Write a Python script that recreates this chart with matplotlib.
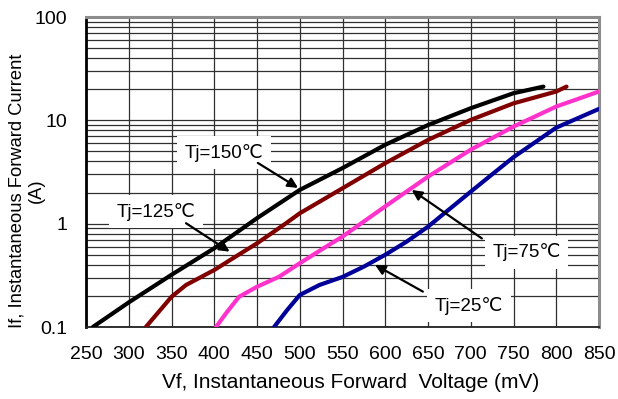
import matplotlib
matplotlib.use("Agg")
import matplotlib.pyplot as plt
from matplotlib.ticker import FixedLocator, LogLocator, NullFormatter

plt.rcParams['font.family'] = ['Liberation Sans', 'DejaVu Sans']

# Data (mV, A)
v150 = [258, 300, 350, 400, 450, 500, 550, 600, 650, 700, 750, 785]
i150 = [0.1, 0.173, 0.32, 0.578, 1.13, 2.12, 3.45, 5.8, 9.0, 13.1, 18.3, 21.2]

v125 = [320, 335, 350, 367, 400, 425, 450, 484, 500, 550, 600, 650, 700, 750, 800, 812]
i125 = [0.1, 0.14, 0.196, 0.255, 0.356, 0.48, 0.645, 1.01, 1.26, 2.2, 3.85, 6.46, 10.1, 14.6, 19.0, 21.2]

v75 = [402, 415, 429, 450, 476, 500, 531, 550, 600, 650, 700, 750, 800, 850]
i75 = [0.1, 0.14, 0.196, 0.245, 0.307, 0.414, 0.60, 0.75, 1.47, 2.85, 5.2, 8.7, 13.6, 19.0]

v25 = [470, 485, 500, 523, 550, 575, 600, 625, 650, 700, 725, 750, 800, 850]
i25 = [0.1, 0.145, 0.204, 0.255, 0.305, 0.384, 0.50, 0.67, 0.935, 2.04, 3.0, 4.4, 8.5, 12.9]

xticks = list(range(250, 851, 50))
yticks = [0.1, 1, 10, 100]
ytick_labels = ["0.1", "1", "10", "100"]

# annotation labels: (text, text pos, arrow tail, arrow head)
labels = ["Tj=150℃", "Tj=125℃", "Tj=75℃", "Tj=25℃"]
label_pos = [(411, 4.83), (332, 1.30), (765, 0.53), (698, 0.161)]
arrow_tail = [(451, 3.87), (367, 1.01), (713, 0.72), (644, 0.22)]
arrow_head = [(498, 2.22), (418, 0.536), (631, 2.12), (588, 0.40)]

fig = plt.figure(figsize=(6.18, 3.99), dpi=100)
ax = fig.add_axes([86/618, 1 - 327/399, (599-86)/618, (327-17)/399])

ax.set_yscale('log')
ax.set_xlim(250, 850)
ax.set_ylim(0.1, 100)

ax.xaxis.set_major_locator(FixedLocator(xticks))
ax.set_xticklabels([str(t) for t in xticks])
ax.yaxis.set_major_locator(FixedLocator(yticks))
ax.set_yticklabels(ytick_labels)
ax.yaxis.set_minor_locator(LogLocator(base=10, subs=range(2, 10)))
ax.yaxis.set_minor_formatter(NullFormatter())

ax.grid(True, which='major', color='#303030', linewidth=0.9)
ax.grid(True, which='minor', axis='y', color='#303030', linewidth=0.9)
ax.tick_params(which='both', length=0, labelsize=14)
ax.tick_params(axis='y', pad=13.5)
ax.tick_params(axis='x', pad=14)

ax.spines['left'].set_color('black')
ax.spines['left'].set_linewidth(2.0)
ax.spines['bottom'].set_color('#202020')
ax.spines['bottom'].set_linewidth(1.3)
for s in ['top', 'right']:
    ax.spines[s].set_color('#8c8c8c')
    ax.spines[s].set_linewidth(2.2)

lw = 3.0
ax.plot(v150, i150, color='black', lw=lw, solid_capstyle='round', solid_joinstyle='round', zorder=3)
ax.plot(v125, i125, color='#800000', lw=lw, solid_capstyle='round', solid_joinstyle='round', zorder=3)
ax.plot(v75, i75, color='#ff33cc', lw=lw, solid_capstyle='round', solid_joinstyle='round', zorder=3)
ax.plot(v25, i25, color='#000099', lw=lw, solid_capstyle='round', solid_joinstyle='round', zorder=3)

box = dict(boxstyle='square,pad=0.4', fc='white', ec='none')
for txt, tp, tail, head in zip(labels, label_pos, arrow_tail, arrow_head):
    ax.text(tp[0], tp[1], txt, fontsize=13.5, ha='center', va='center', bbox=box, zorder=5)
    ax.annotate('', xy=head, xytext=tail,
                arrowprops=dict(arrowstyle='-|>', color='black', lw=1.6,
                                mutation_scale=15, shrinkA=0, shrinkB=0), zorder=6)

fig.text(351/618, 1 - 382/399, 'Vf, Instantaneous Forward  Voltage (mV)',
         fontsize=15, ha='center', va='center')
fig.text(27/618, 1 - 191/399, 'If, Instantaneous Forward Current\n(A)',
         fontsize=13.2, ha='center', va='center', rotation=90,
         multialignment='center', linespacing=1.2)

fig.savefig('out.png', dpi=100)
